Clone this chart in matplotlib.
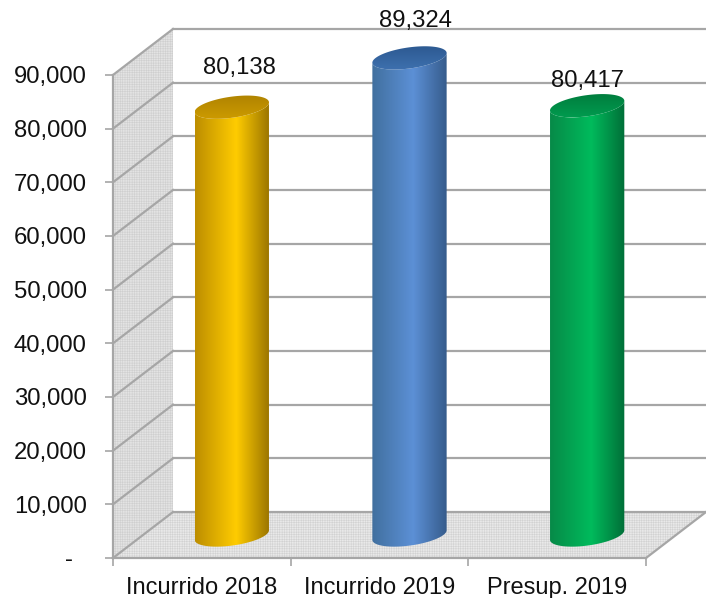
import numpy as np
import matplotlib
matplotlib.use("Agg")
import matplotlib.pyplot as plt
from matplotlib.colors import LinearSegmentedColormap
from matplotlib.patches import PathPatch, Polygon
from matplotlib.path import Path

categories = ["Incurrido 2018", "Incurrido 2019", "Presup. 2019"]
values = [80138, 89324, 80417]
y_ticks = [0, 10000, 20000, 30000, 40000, 50000, 60000, 70000, 80000, 90000]

left_colors = ["#bd8e00", "#41709f", "#078a48"]
mid_colors = ["#ffcc00", "#5c90d6", "#00bb5c"]
right_colors = ["#9a7400", "#365c8c", "#006f38"]
top_dark = ["#b08400", "#2d5a92", "#007d3e"]
top_light = ["#cc9a00", "#3e70ae", "#009a4e"]
label_offsets = [(38, 60), (35.5, 57.6), (30.5, 45)]

plt.rcParams["font.family"] = ["Liberation Sans", "DejaVu Sans"]
plt.rcParams["hatch.linewidth"] = 0.4

W, H = 706, 598
GRID = "#a6a6a6"
# front plane in pixels, 3d depth goes up and to the right
x0, x1, y0 = 113, 646, 558
px_per_unit = 53.67 / 10000
depth_x, depth_y = 60, 46

fig = plt.figure(figsize=(W / 100, H / 100), dpi=100)
ax = fig.add_axes([x0 / W, (H - y0) / H, (x1 - x0) / W, y0 / H])
ax.set_xlim(0, 3)
ax.set_ylim(0, y0 / px_per_unit)
kx = 3 / (x1 - x0)
ky = 1 / px_per_unit


def depth(x, y, d=1.0):
    return x + depth_x * kx * d, y + depth_y * ky * d


top = y_ticks[-1]
wall = [(0, 0), depth(0, 0), depth(0, top), (0, top)]
floor = [(0, 0), (3, 0), depth(3, 0), depth(0, 0)]
ax.add_patch(Polygon(wall, closed=True, facecolor="#e3e3e3", edgecolor="#cfcfcf",
                     hatch="+++++++", linewidth=0, zorder=1, clip_on=False))
ax.add_patch(Polygon(floor, closed=True, facecolor="#e9e9e9", edgecolor="#d2d2d2",
                     hatch="+++++++", linewidth=0, zorder=1, clip_on=False))

for v in y_ticks:
    bx, by = depth(0, v)
    ax.plot([0, bx], [v, by], color=GRID, lw=1.6, zorder=2, clip_on=False)
    ax.plot([bx, depth(3, 0)[0]], [by, by], color=GRID, lw=1.6, zorder=2, clip_on=False)
ax.plot([3, depth(3, 0)[0]], [0, depth(3, 0)[1]], color=GRID, lw=1.6, zorder=2, clip_on=False)


def ellipse(cx, cy, t):
    # tilted ellipse, sizes in pixels, result in data units
    a, b, th = 37.5, 10.5, np.radians(8)
    px = a * np.cos(t) * np.cos(th) - b * np.sin(t) * np.sin(th)
    py = a * np.cos(t) * np.sin(th) + b * np.sin(t) * np.cos(th)
    return cx + px * kx, cy + py * ky


for i, v in enumerate(values):
    cx, base = depth(i + 0.5, 0, 0.5)
    cy = depth(0, v, 0.45)[1]

    t = np.linspace(np.pi, 2 * np.pi, 60)
    bx, by = ellipse(cx, base, t)
    tx, ty = ellipse(cx, cy, t)
    verts = list(zip(bx, by)) + list(zip(tx[::-1], ty[::-1])) + [(bx[0], by[0])]
    body = PathPatch(Path(verts), facecolor="none", edgecolor="none", zorder=3)
    ax.add_patch(body)

    cmap = LinearSegmentedColormap.from_list(
        "cyl", [(0, left_colors[i]), (0.55, mid_colors[i]), (1, right_colors[i])])
    im = ax.imshow(np.linspace(0, 1, 200).reshape(1, -1), cmap=cmap, aspect="auto", zorder=3,
                   vmin=0, vmax=1, extent=(min(bx), max(bx), min(by), max(ty)))
    im.set_clip_path(body)

    # lid, darker towards the back
    t = np.linspace(0, 2 * np.pi, 120)
    ex, ey = ellipse(cx, cy, t)
    lid = PathPatch(Path(list(zip(ex, ey))), facecolor="none", edgecolor="none", zorder=4)
    ax.add_patch(lid)
    cmap = LinearSegmentedColormap.from_list("lid", [top_light[i], top_dark[i]])
    im = ax.imshow(np.linspace(0, 1, 40).reshape(-1, 1), cmap=cmap, aspect="auto", zorder=4,
                   origin="lower", extent=(min(ex), max(ex), min(ey), max(ey)))
    im.set_clip_path(lid)

    ax.annotate(f"{v:,}", (i + 0.5, v), xytext=(label_offsets[i][0] * 0.72, label_offsets[i][1] * 0.72),
                textcoords="offset points", ha="center", va="center", fontsize=17.2,
                color="#111111", zorder=5, annotation_clip=False)

ax.set_xlim(0, 3)
ax.set_ylim(0, y0 / px_per_unit)

for side in ("top", "right"):
    ax.spines[side].set_visible(False)
for side in ("left", "bottom"):
    ax.spines[side].set_color(GRID)
    ax.spines[side].set_linewidth(1.6)
    ax.spines[side].set_zorder(2.5)
ax.spines["left"].set_bounds(0, top)

ax.set_yticks(y_ticks)
ax.set_yticklabels(["-\u00a0\u00a0" if v == 0 else f"{v:,}" for v in y_ticks])
ax.set_xticks([0, 1, 2, 3])
ax.set_xticklabels([])
ax.set_xticks([0.5, 1.5, 2.5], minor=True)
ax.set_xticklabels(categories, minor=True)
ax.tick_params(axis="y", length=6, width=1.2, color=GRID, labelsize=17.2, pad=13, labelcolor="#111111")
ax.tick_params(axis="x", which="major", length=6, width=1.2, color=GRID)
ax.tick_params(axis="x", which="minor", length=0, labelsize=17, pad=14, labelcolor="#111111")
ax.patch.set_visible(False)

fig.savefig("out.png", dpi=100)
